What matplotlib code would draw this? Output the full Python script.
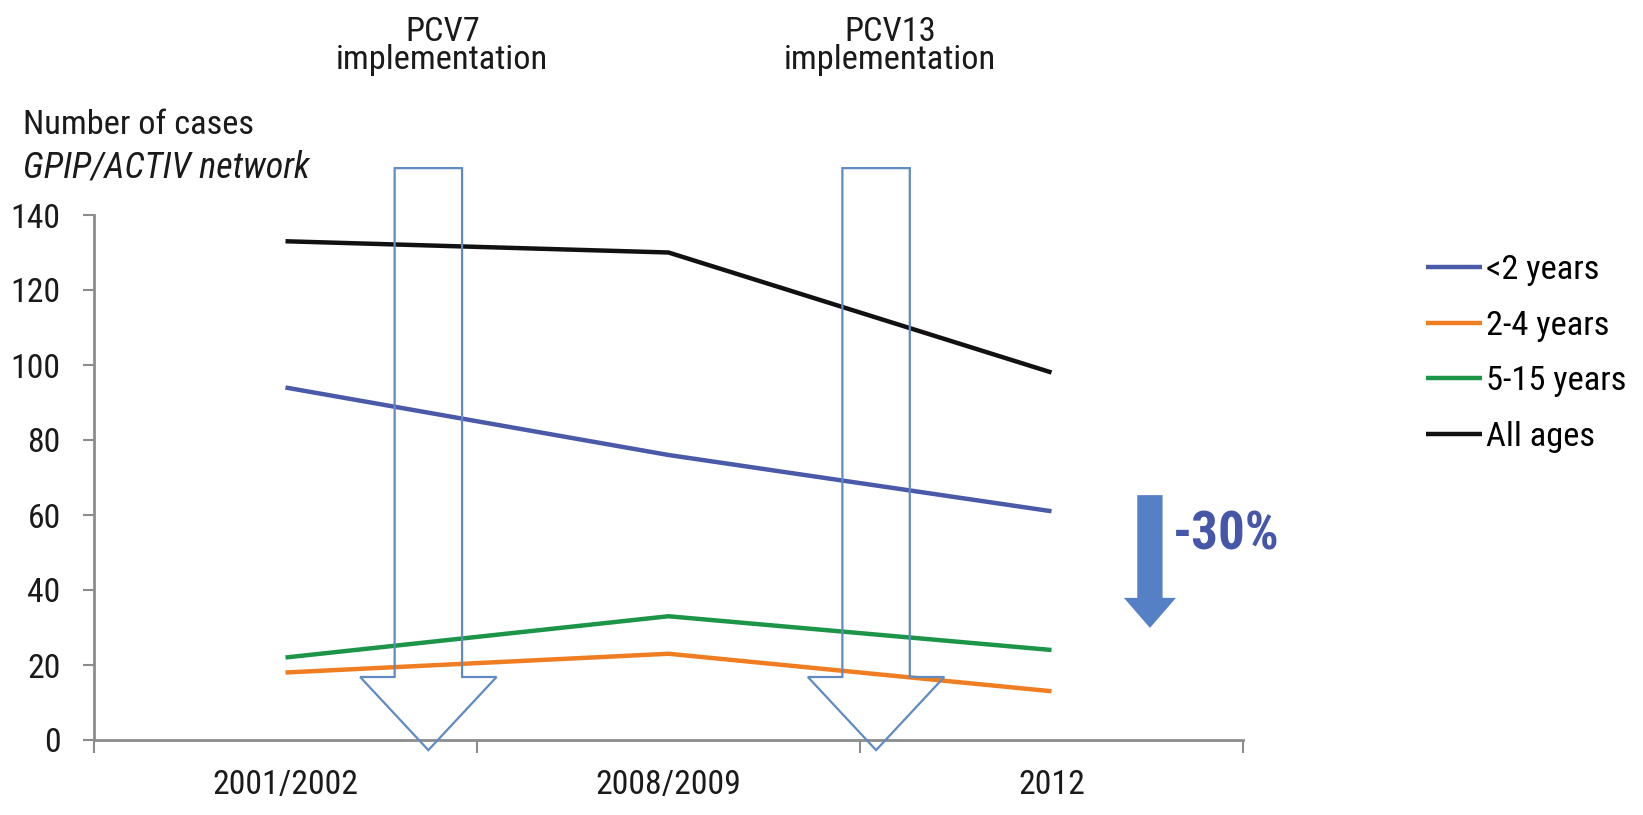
"""IPD cases by age group (GPIP/ACTIV network), with PCV7/PCV13 markers.

Writes out.png.
"""

import os

import matplotlib

matplotlib.use("Agg")
import matplotlib.pyplot as plt
from matplotlib import font_manager
from matplotlib.font_manager import FontProperties
from matplotlib.patches import Polygon

W, H = 1643, 815

periods = ["2001/2002", "2008/2009", "2012"]
under2 = [94, 76, 61]
age2to4 = [18, 23, 13]
age5to15 = [22, 33, 24]
all_ages = [133, 130, 98]

series = [
    ("<2 years", under2, "#4a5aa8"),
    ("2-4 years", age2to4, "#ef7d22"),
    ("5-15 years", age5to15, "#1c9549"),
    ("All ages", all_ages, "#111111"),
]

# vaccine arrows: (label, centre x in category units)
vaccines = [("PCV7\nimplementation", 0.373), ("PCV13\nimplementation", 1.542)]

# narrow fonts first (regular, italic, bold, width relative to Arial)
CANDIDATES = [
    ("LiberationSansNarrow-Regular.ttf", "LiberationSansNarrow-Italic.ttf",
     "LiberationSansNarrow-Bold.ttf", 0.82),
    ("NotoSans-Condensed.ttf", "NotoSans-CondensedItalic.ttf",
     "NotoSans-CondensedBold.ttf", 0.88),
    ("RobotoCondensed-Regular.ttf", "RobotoCondensed-Italic.ttf",
     "RobotoCondensed-Bold.ttf", 0.86),
]


def pick_fonts():
    files = {os.path.basename(f.fname): f.fname for f in font_manager.fontManager.ttflist}
    for reg, ita, bold, width in CANDIDATES:
        if reg in files:
            return (FontProperties(fname=files[reg]),
                    FontProperties(fname=files.get(ita, files[reg])),
                    FontProperties(fname=files.get(bold, files[reg])), width)
    return (FontProperties(family="Liberation Sans"),
            FontProperties(family="Liberation Sans", style="italic"),
            FontProperties(family="Liberation Sans", weight="bold"), 1.0)


def font(base, size):
    fp = base.copy()
    fp.set_size(size)
    return fp


def hollow_arrow(xc, half_shaft, half_head, ytop, yneck, ytip):
    return [
        (xc - half_shaft, ytop), (xc + half_shaft, ytop), (xc + half_shaft, yneck),
        (xc + half_head, yneck), (xc, ytip), (xc - half_head, yneck),
        (xc - half_shaft, yneck),
    ]


def main():
    reg, ita, bold, width = pick_fonts()
    k = 0.82 / width          # sizes below are for an Arial Narrow look
    s_txt = 26 * k
    s_tick = 25.5 * k
    s_big = 40 * k

    fig = plt.figure(figsize=(W / 100, H / 100), dpi=100)
    ax = fig.add_axes([94 / W, 1 - 740 / H, 1149 / W, 525 / H])

    x = range(len(periods))
    for label, vals, color in series:
        ax.plot(x, vals, color=color, lw=3.2, label=label, solid_capstyle="butt")

    ax.set_xlim(-0.5, len(periods) - 0.5)
    ax.set_ylim(0, 140)
    ax.set_yticks(range(0, 141, 20))
    ax.set_xticks([i - 0.5 for i in range(len(periods) + 1)])
    ax.set_xticklabels([])
    ax.set_xticks(list(x), minor=True)
    ax.set_xticklabels(periods, minor=True)
    ax.tick_params(axis="x", which="major", length=9, width=1.5, color="#8c8c8c")
    ax.tick_params(axis="x", which="minor", length=0, pad=21)
    ax.tick_params(axis="y", length=8, width=1.5, color="#8c8c8c", pad=16)
    for lab in ax.get_xticklabels(minor=True) + ax.get_yticklabels():
        lab.set_fontproperties(font(reg, s_tick))
        lab.set_color("#1a1a1a")
    for side in ("top", "right"):
        ax.spines[side].set_visible(False)
    for side in ("left", "bottom"):
        ax.spines[side].set_color("#8c8c8c")
        ax.spines[side].set_linewidth(2)

    for text, xc in vaccines:
        pts = hollow_arrow(xc, 0.088, 0.178, 152.5, 16.8, -2.7)
        ax.add_patch(Polygon(pts, closed=True, fill=False, ec="#5f8bc2", lw=1.6,
                             clip_on=False, zorder=5))
        xf = fig.transFigure.inverted().transform(ax.transData.transform((xc, 0)))[0]
        fig.text(xf + 14 / W, 1 - 46 / H, text, ha="center", va="center",
                 fontproperties=font(reg, s_txt), color="#1a1a1a", linespacing=0.84)

    # -30% solid arrow
    pts = hollow_arrow(2.257, 0.033, 0.068, 65.3, 37.9, 29.9)
    ax.add_patch(Polygon(pts, closed=True, fc="#5580c6", ec="none", clip_on=False))
    ax.text(2.317, 54.7, "-30%", fontproperties=font(bold, s_big), color="#4656a8",
            ha="left", va="center", clip_on=False)

    fig.text(23 / W, 1 - 125 / H, "Number of cases", fontproperties=font(reg, s_txt),
             ha="left", va="center", color="#1a1a1a")
    fig.text(23 / W, 1 - 167 / H, "GPIP/ACTIV network",
             fontproperties=font(ita, s_txt * 1.05), ha="left", va="center",
             color="#1a1a1a")

    em = s_txt * 100 / 72
    ax.legend(loc="upper left", bbox_to_anchor=(1426 / W, 1 - (267 - 0.38 * em) / H),
              bbox_transform=fig.transFigure, frameon=False, prop=font(reg, s_txt),
              handlelength=56 / em, handletextpad=4 / em, labelspacing=0.69,
              borderpad=0, borderaxespad=0)

    fig.savefig("out.png", dpi=100)


if __name__ == "__main__":
    main()
